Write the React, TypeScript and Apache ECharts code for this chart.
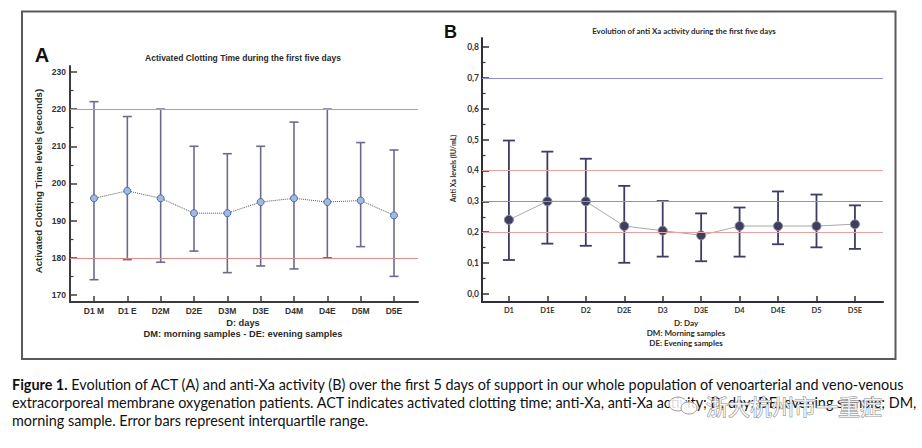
import React, { useEffect, useRef } from "react";
import * as echarts from "echarts";

// ---------- Panel A: Activated Clotting Time ----------
const catsA = ["D1 M", "D1 E", "D2M", "D2E", "D3M", "D3E", "D4M", "D4E", "D5M", "D5E"];
const meanA = [196, 198, 196, 192, 192, 195, 196, 195, 195.4, 191.4];
const lowA = [174.1, 179.5, 178.8, 181.8, 176, 177.8, 177, 180, 183, 175];
const highA = [222, 218, 220, 210, 208, 210, 216.5, 220, 211, 209];
const refA = [220, 180];
const ticksA = [170, 180, 190, 200, 210, 220, 230];
const minorTicksA = [175, 185, 195, 205, 215, 225];

// ---------- Panel B: anti-Xa activity ----------
const catsB = ["D1", "D1E", "D2", "D2E", "D3", "D3E", "D4", "D4E", "D5", "D5E"];
const meanB = [0.24, 0.3, 0.3, 0.22, 0.205, 0.19, 0.22, 0.22, 0.22, 0.226];
const lowB = [0.11, 0.163, 0.156, 0.101, 0.121, 0.106, 0.121, 0.161, 0.151, 0.146];
const highB = [0.497, 0.461, 0.438, 0.35, 0.301, 0.261, 0.28, 0.332, 0.322, 0.287];
const refBlueB = [0.7, 0.3];
const refRedB = [0.4, 0.2];
const ticksB = [0, 0.1, 0.2, 0.3, 0.4, 0.5, 0.6, 0.7, 0.8];
const minorTicksB = [0.05, 0.15, 0.25, 0.35, 0.45, 0.55, 0.65, 0.75];

const idx = catsA.map((_, i) => i);

const errBar = (color: string, width: number, cap: number) =>
  (params: any, api: any) => {
    const x = api.value(0);
    const lo = api.coord([x, api.value(1)]);
    const hi = api.coord([x, api.value(2)]);
    const h = cap / 2;
    const style = { stroke: color, lineWidth: width };
    return {
      type: "group",
      children: [
        { type: "line", shape: { x1: lo[0], y1: lo[1], x2: hi[0], y2: hi[1] }, style },
        { type: "line", shape: { x1: hi[0] - h, y1: hi[1], x2: hi[0] + h, y2: hi[1] }, style },
        { type: "line", shape: { x1: lo[0] - h, y1: lo[1], x2: lo[0] + h, y2: lo[1] }, style },
      ],
    };
  };

const ARIAL = '"Liberation Sans", Arial, sans-serif';
const LATO = "Lato, sans-serif";

const txt = (text: string, x: number, y: number, font: string, extra: any = {}) => ({
  type: "text",
  x,
  y,
  rotation: extra.rotation || 0,
  silent: true,
  style: {
    text,
    font,
    fill: extra.fill || "#2a2a2a",
    textAlign: extra.align || "center",
    align: extra.align || "center",
    textVerticalAlign: "middle",
    verticalAlign: "middle",
  },
});

export default function App() {
  const ref = useRef<HTMLDivElement>(null);

  useEffect(() => {
    if (!ref.current) return;
    const chart = echarts.init(ref.current, null, { renderer: "svg" });

    const axisColA = "#3c3c3c";
    const axisColB = "#2f2f3a";
    const capFont = `14.4px ${LATO}`;

    const option: any = {
      animation: false,
      backgroundColor: "#ffffff",
      grid: [
        { left: 70, top: 66, width: 348, height: 236, outerBoundsMode: "none", containLabel: false },
        { left: 482, top: 38, width: 401, height: 264, outerBoundsMode: "none", containLabel: false },
      ],
      xAxis: [
        {
          type: "value",
          gridIndex: 0,
          min: -0.72,
          max: 9.72,
          splitLine: { show: false },
          axisLine: { show: true, onZero: false, lineStyle: { color: axisColA, width: 2 } },
          axisTick: { show: true, inside: true, length: 6, customValues: idx, lineStyle: { color: axisColA, width: 1.5 } },
          axisLabel: {
            customValues: idx,
            formatter: (v: number) => catsA[Math.round(v)],
            fontFamily: ARIAL,
            fontWeight: "bold",
            fontSize: 8.5,
            color: "#333",
            margin: 4,
          },
        },
        {
          type: "value",
          gridIndex: 1,
          min: -0.7,
          max: 9.73,
          splitLine: { show: false },
          axisLine: { show: true, onZero: false, lineStyle: { color: axisColB, width: 2 } },
          axisTick: { show: true, inside: true, length: 6, customValues: idx, lineStyle: { color: axisColB, width: 1.5 } },
          axisLabel: {
            customValues: idx,
            formatter: (v: number) => catsB[Math.round(v)],
            fontFamily: LATO,
            fontWeight: "bold",
            fontSize: 7.5,
            color: "#333",
            margin: 4,
          },
        },
      ],
      yAxis: [
        {
          type: "value",
          gridIndex: 0,
          min: 168.1,
          max: 231.6,
          position: "left",
          splitLine: { show: false },
          axisLine: { show: true, onZero: false, lineStyle: { color: axisColA, width: 2 } },
          axisTick: { show: true, inside: true, length: 7, customValues: ticksA, lineStyle: { color: axisColA, width: 1.5 } },
          axisLabel: {
            customValues: ticksA,
            fontFamily: ARIAL,
            fontWeight: "bold",
            fontSize: 8.5,
            color: "#333",
            margin: 4,
          },
        },
        {
          type: "value",
          gridIndex: 0,
          min: 168.1,
          max: 231.6,
          position: "left",
          offset: 0,
          splitLine: { show: false },
          axisLine: { show: false, onZero: false },
          axisTick: { show: true, inside: true, length: 3.5, customValues: minorTicksA, lineStyle: { color: axisColA, width: 1.2 } },
          axisLabel: { show: false },
        },
        {
          type: "value",
          gridIndex: 1,
          min: -0.026,
          max: 0.829,
          position: "left",
          splitLine: { show: false },
          axisLine: { show: true, onZero: false, lineStyle: { color: axisColB, width: 2 } },
          axisTick: { show: true, inside: true, length: 7, customValues: ticksB, lineStyle: { color: axisColB, width: 1.5 } },
          axisLabel: {
            customValues: ticksB,
            formatter: (v: number) => v.toFixed(1).replace(".", ","),
            fontFamily: LATO,
            fontWeight: "bold",
            fontSize: 8.5,
            color: "#333",
            margin: 3,
          },
        },
        {
          type: "value",
          gridIndex: 1,
          min: -0.026,
          max: 0.829,
          position: "left",
          offset: 0,
          splitLine: { show: false },
          axisLine: { show: false, onZero: false },
          axisTick: { show: true, inside: true, length: 3.5, customValues: minorTicksB, lineStyle: { color: axisColB, width: 1.2 } },
          axisLabel: { show: false },
        },
      ],
      series: [
        // reference lines A
        {
          type: "line",
          xAxisIndex: 0,
          yAxisIndex: 0,
          data: [],
          z: 1,
          markLine: {
            silent: true,
            symbol: "none",
            label: { show: false },
            lineStyle: { type: "solid", width: 1, color: "#e58a8a" },
            data: refA.map((v) => ({ yAxis: v, lineStyle: { color: "#e58a8a", width: 1, type: "solid" } })),
          },
        },
        {
          type: "custom",
          xAxisIndex: 0,
          yAxisIndex: 0,
          z: 2,
          renderItem: errBar("#6b6b8c", 1.6, 9),
          encode: { x: 0, y: [1, 2] },
          data: idx.map((i) => [i, lowA[i], highA[i]]),
        },
        {
          type: "line",
          xAxisIndex: 0,
          yAxisIndex: 0,
          z: 3,
          data: idx.map((i) => [i, meanA[i]]),
          lineStyle: { color: "#555", width: 1, type: "dotted" },
          symbol: "circle",
          symbolSize: 7,
          itemStyle: { color: "#a3b9e0", borderColor: "#4f6aa3", borderWidth: 1 },
        },
        // reference lines B
        {
          type: "line",
          xAxisIndex: 1,
          yAxisIndex: 2,
          data: [],
          z: 1,
          markLine: {
            silent: true,
            symbol: "none",
            label: { show: false },
            lineStyle: { type: "solid", width: 1 },
            data: [
              ...refBlueB.map((v) => ({ yAxis: v, lineStyle: { color: "#8d8dd4", width: 1, type: "solid" } })),
              ...refRedB.map((v) => ({ yAxis: v, lineStyle: { color: "#eaa0a0", width: 1, type: "solid" } })),
            ],
          },
        },
        {
          type: "custom",
          xAxisIndex: 1,
          yAxisIndex: 2,
          z: 2,
          renderItem: errBar("#3d3d63", 1.8, 12),
          encode: { x: 0, y: [1, 2] },
          data: idx.map((i) => [i, lowB[i], highB[i]]),
        },
        {
          type: "line",
          xAxisIndex: 1,
          yAxisIndex: 2,
          z: 3,
          data: idx.map((i) => [i, meanB[i]]),
          lineStyle: { color: "#a9a9a9", width: 1 },
          symbol: "circle",
          symbolSize: 9,
          itemStyle: { color: "#3e3e5e", borderColor: "#8a8aa6", borderWidth: 1 },
        },
      ],
      graphic: [
        {
          type: "rect",
          silent: true,
          shape: { x: 22, y: 11.5, width: 873.5, height: 347.5 },
          style: { fill: "none", stroke: "#5a5a5a", lineWidth: 2 },
        },
        txt("A", 42, 55, `bold 20px ${ARIAL}`, { fill: "#111" }),
        txt("Activated Clotting Time during the first five days", 243, 58, `bold 8.5px ${ARIAL}`),
        txt("Activated Clotting Time levels (seconds)", 38.5, 181, `bold 9.6px ${ARIAL}`, { rotation: Math.PI / 2 }),
        txt("D: days", 243, 323, `bold 9.3px ${ARIAL}`),
        txt("DM: morning samples - DE: evening samples", 243, 334, `bold 9.3px ${ARIAL}`),
        txt("B", 450.5, 31.5, `bold 18px ${ARIAL}`, { fill: "#111" }),
        txt("Evolution of anti Xa activity during the first five days", 684, 31, `bold 7.9px ${LATO}`),
        txt("Anti Xa levels (IU/mL)", 452.5, 168.5, `bold 7px ${LATO}`, { rotation: Math.PI / 2 }),
        txt("D: Day", 686, 323, `bold 8px ${LATO}`),
        txt("DM: Morning samples", 686, 333, `bold 8px ${LATO}`),
        txt("DE: Evening samples", 686, 343, `bold 8px ${LATO}`),
        {
          type: "text",
          x: 12,
          y: 384,
          silent: true,
          style: {
            text: "{b|Figure 1.} Evolution of ACT (A) and anti-Xa activity (B) over the first 5 days of support in our whole population of venoarterial and veno-venous",
            font: capFont,
            fill: "#111",
            textAlign: "left",
            align: "left",
            textVerticalAlign: "middle",
            verticalAlign: "middle",
            rich: { b: { fontWeight: "bold", fontSize: 14.4, fontFamily: LATO, fill: "#111" } },
          },
        },
        txt(
          "extracorporeal membrane oxygenation patients. ACT indicates activated clotting time; anti-Xa, anti-Xa activity; D, day; DE, evening sample; DM,",
          12, 402, capFont, { align: "left", fill: "#111" }
        ),
        txt("morning sample. Error bars represent interquartile range.", 12, 420, capFont, { align: "left", fill: "#111" }),
        // watermark
        {
          type: "ellipse",
          silent: true,
          shape: { cx: 678, cy: 404, rx: 9, ry: 7 },
          style: { fill: "rgba(255,255,255,0.85)", stroke: "#9a9a9a", lineWidth: 1 },
        },
        {
          type: "ellipse",
          silent: true,
          shape: { cx: 689, cy: 408, rx: 8, ry: 6 },
          style: { fill: "rgba(255,255,255,0.85)", stroke: "#9a9a9a", lineWidth: 1 },
        },
        {
          type: "text",
          x: 706,
          y: 405,
          silent: true,
          style: {
            text: "浙大杭州市一重症",
            font: `22px "Noto Sans CJK SC", sans-serif`,
            fill: "rgba(255,255,255,0.85)",
            stroke: "#8a8a8a",
            lineWidth: 1,
            textAlign: "left",
            align: "left",
            textVerticalAlign: "middle",
            verticalAlign: "middle",
          },
        },
      ],
    };

    chart.setOption(option);
    return () => chart.dispose();
  }, []);

  return (
    <div
      ref={ref}
      style={{ position: "fixed", left: 0, top: 0, width: 922, height: 448, background: "#fff" }}
    />
  );
}
